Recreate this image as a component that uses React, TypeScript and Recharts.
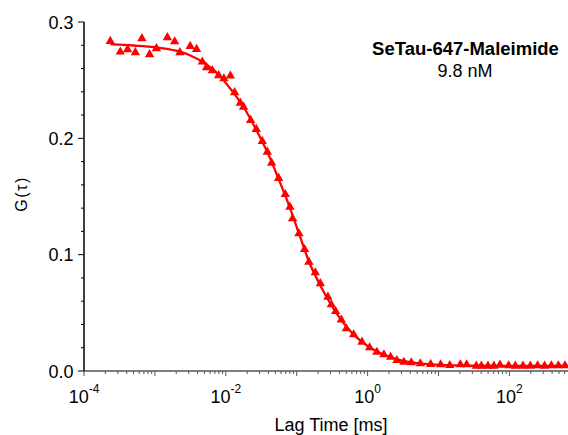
import React from "react";
import { ComposedChart, Line, Scatter, XAxis, YAxis, ZAxis } from "recharts";

// measured correlation curve (lag time in ms, G(tau))
const LAG_TIMES = [
  2.35e-4, 3.25e-4, 4.12e-4, 5.3e-4, 6.56e-4, 8.41e-4, 1.05e-3, 1.5e-3, 1.9e-3,
  2.25e-3, 3.15e-3, 3.87e-3, 4.67e-3, 5.36e-3, 6.46e-3, 7.91e-3, 9.4e-3, 1.16e-2,
  1.33e-2, 1.6e-2, 1.78e-2, 2.24e-2, 2.69e-2, 3.27e-2, 3.85e-2, 4.43e-2, 5.56e-2,
  6.9e-2, 8.02e-2, 8.75e-2, 0.1074, 0.1291, 0.1486, 0.1828, 0.2153, 0.2754, 0.3076,
  0.354, 0.4256, 0.501, 0.635, 0.832, 1.067, 1.352, 1.698, 2.11, 2.59, 3.25, 4.13,
  5.53, 7.74, 10.7, 14.4, 20.3, 24.9, 34.1, 40.2, 49.8, 60.4, 73.5, 97.5, 121, 155,
  197, 250, 313, 390, 490, 607,
];
const G_VALUES = [
  0.2835, 0.2743, 0.2764, 0.2738, 0.2858, 0.2721, 0.2772, 0.2867, 0.2832, 0.2738,
  0.2792, 0.2766, 0.2657, 0.2609, 0.2583, 0.254, 0.2514, 0.2537, 0.2394, 0.2304,
  0.227, 0.2156, 0.2078, 0.1975, 0.1883, 0.1788, 0.1657, 0.1519, 0.141, 0.131,
  0.1181, 0.1046, 0.0937, 0.0846, 0.0752, 0.0636, 0.0571, 0.0513, 0.044, 0.0365,
  0.0313, 0.0249, 0.0201, 0.0163, 0.0141, 0.012, 0.0092, 0.0077, 0.0072, 0.0064,
  0.0058, 0.0055, 0.0049, 0.0055, 0.0055, 0.0043, 0.0043, 0.0043, 0.0043, 0.0052,
  0.0046, 0.0043, 0.0043, 0.0043, 0.0046, 0.0043, 0.0046, 0.0046, 0.0046,
];

// fitted curve
const FIT_TIMES = [
  2.35e-4, 5e-4, 1e-3, 2e-3, 3e-3, 5e-3, 8e-3, 1.2e-2, 1.8e-2, 2.7e-2, 4e-2, 5.6e-2,
  8e-2, 0.11, 0.15, 0.22, 0.3, 0.43, 0.63, 1.0, 1.5, 2.2, 3.3, 5, 10, 30, 100, 670,
];
const FIT_VALUES = [
  0.281, 0.2798, 0.2783, 0.2753, 0.2718, 0.2645, 0.2545, 0.2415, 0.2265, 0.207,
  0.186, 0.1645, 0.1405, 0.1165, 0.0935, 0.0725, 0.0578, 0.0433, 0.0315, 0.0215,
  0.0155, 0.0115, 0.0085, 0.0067, 0.0053, 0.0045, 0.0043, 0.0043,
];

const X_DECADES = [-4, -3, -2, -1, 0, 1, 2];
const X_MAX = 670;
const Y_TICKS = [0, 0.02, 0.04, 0.06, 0.08, 0.1, 0.12, 0.14, 0.16, 0.18, 0.2, 0.22, 0.24, 0.26, 0.28, 0.3];

const FONT = "'Liberation Sans', Arial, sans-serif";
const RED = "#ff0000";

const points = LAG_TIMES.map((x, i) => ({ x, y: G_VALUES[i] }));
const fit = FIT_TIMES.map((x, i) => ({ x, y: FIT_VALUES[i] }));
const xTicks = X_DECADES.flatMap((d) =>
  [1, 2, 3, 4, 5, 6, 7, 8, 9].map((m) => m * Math.pow(10, d))
).filter((v) => v <= X_MAX);

const decadeOf = (v: number) => Math.round(Math.log10(v));
const isDecade = (v: number) => Math.abs(v / Math.pow(10, decadeOf(v)) - 1) < 1e-6;

function BottomTick(props: any) {
  const { x, y, payload } = props;
  const v = payload.value;
  const major = isDecade(v);
  const e = decadeOf(v);
  return (
    <g>
      <line x1={x} x2={x} y1={y} y2={y + (major ? 5 : 3)} stroke="#555" strokeWidth={1} />
      {major && e % 2 === 0 && (
        <text x={x} y={y + 32} textAnchor="middle" fontSize={18} fontFamily={FONT} fill="#000">
          10<tspan dy={-10} fontSize={12}>{e}</tspan>
        </text>
      )}
    </g>
  );
}

function TopTick(props: any) {
  const { x, y } = props;
  return <line x1={x} x2={x} y1={y} y2={y + 3} stroke="#444" strokeWidth={1} />;
}

function LeftTick(props: any) {
  const { x, y, payload } = props;
  const v = payload.value;
  const major = Math.abs(v * 10 - Math.round(v * 10)) < 1e-6;
  return (
    <g>
      <line x1={x - (major ? 6 : 3)} x2={x} y1={y} y2={y} stroke="#000" strokeWidth={1} />
      {major && (
        <text x={x - 10.5} y={y + 6.5} textAnchor="end" fontSize={18} fontFamily={FONT} fill="#000">
          {v.toFixed(1)}
        </text>
      )}
    </g>
  );
}

export default function App() {
  return (
    <div style={{ position: "absolute", left: 0, top: 0, width: 568, height: 435, background: "#fff" }}>
      <ComposedChart width={568} height={435} margin={{ top: 22, right: 0, bottom: 0, left: 0 }}>
        <XAxis
          xAxisId="top"
          orientation="top"
          dataKey="x"
          type="number"
          scale="log"
          domain={[1e-4, X_MAX]}
          allowDataOverflow
          ticks={xTicks}
          interval={0}
          height={0}
          tickSize={0}
          tickMargin={0}
          tickLine={false}
          tick={<TopTick />}
          axisLine={{ stroke: "#000", strokeWidth: 1.2 }}
        />
        <XAxis
          dataKey="x"
          type="number"
          scale="log"
          domain={[1e-4, X_MAX]}
          allowDataOverflow
          ticks={xTicks}
          interval={0}
          height={64}
          tickSize={0}
          tickMargin={0}
          tickLine={false}
          tick={<BottomTick />}
          axisLine={{ stroke: "#555", strokeWidth: 1.5 }}
        />
        <YAxis
          dataKey="y"
          type="number"
          domain={[0, 0.3]}
          allowDataOverflow
          ticks={Y_TICKS}
          interval={0}
          width={84}
          tickSize={0}
          tickMargin={0}
          tickLine={false}
          tick={<LeftTick />}
          axisLine={{ stroke: "#000", strokeWidth: 1.5 }}
        />
        <ZAxis range={[38, 38]} />
        <Line
          data={fit}
          dataKey="y"
          type="monotone"
          stroke={RED}
          strokeWidth={2.3}
          dot={false}
          activeDot={false}
          isAnimationActive={false}
        />
        <Scatter data={points} dataKey="y" fill={RED} shape="triangle" isAnimationActive={false} />
      </ComposedChart>
      <svg
        width={568}
        height={435}
        style={{ position: "absolute", left: 0, top: 0, pointerEvents: "none" }}
        fontFamily={FONT}
      >
        <text x={465.5} y={55} textAnchor="middle" fontSize={18.5} fontWeight="bold" fill="#000">
          SeTau-647-Maleimide
        </text>
        <text x={465} y={77.3} textAnchor="middle" fontSize={18} fill="#000">
          9.8 nM
        </text>
        <text x={331} y={431} textAnchor="middle" fontSize={18} fill="#000">
          Lag Time [ms]
        </text>
        <text
          transform="translate(27,194) rotate(-90)"
          textAnchor="middle"
          fontSize={16}
          letterSpacing={1.5}
          fill="#000"
        >
          G(τ)
        </text>
      </svg>
    </div>
  );
}
